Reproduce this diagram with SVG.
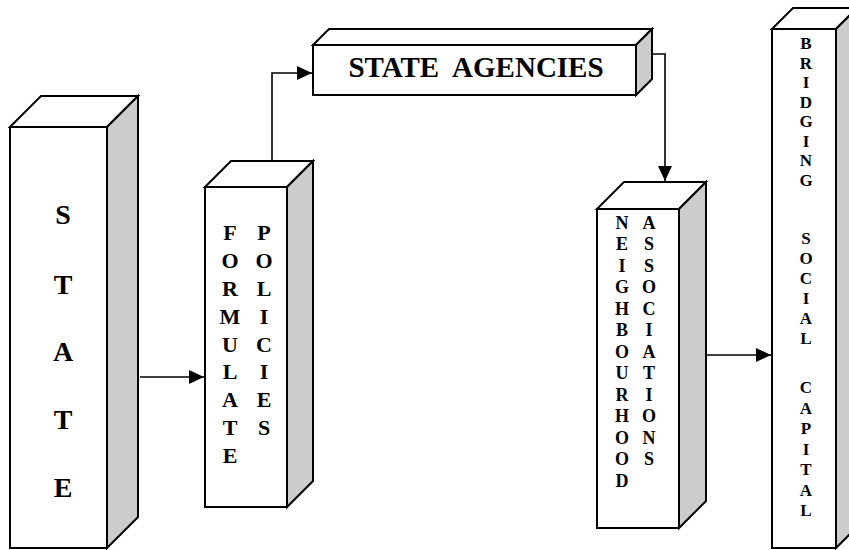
<svg xmlns="http://www.w3.org/2000/svg" width="849" height="550" viewBox="0 0 849 550">
  <style>
    .face { fill: #ffffff; stroke: #000000; stroke-width: 2; stroke-linejoin: miter; }
    .side { fill: #cccccc; stroke: #000000; stroke-width: 2; stroke-linejoin: miter; }
    .lbl { font-family: "Liberation Serif", "Times New Roman", serif; font-weight: bold; fill: #000000; text-anchor: middle; }
    .big { font-size: 28px; }
    .mid { font-size: 22px; }
    .sm { font-size: 18px; }
    .xs { font-size: 17px; }
    .conn { fill: none; stroke: #000000; stroke-width: 1.6; }
  </style>
  <defs>
    <marker id="arrow" markerUnits="userSpaceOnUse" markerWidth="16" markerHeight="14" refX="15" refY="7" orient="auto">
      <path d="M0,0 L15,7 L0,14 Z" fill="#000000"/>
    </marker>
  </defs>

  <g id="connectors">
    <path class="conn" d="M140,377 H204" marker-end="url(#arrow)"/>
    <path class="conn" d="M272,161 V73 H312" marker-end="url(#arrow)"/>
    <path class="conn" d="M652,54 H665 V181" marker-end="url(#arrow)"/>
    <path class="conn" d="M706,355 H771" marker-end="url(#arrow)"/>
  </g>

  <g id="state">
    <polygon class="face" points="10,127 41,96 138,96 107,127"/>
    <polygon class="side" points="107,127 138,96 138,517 107,548"/>
    <rect class="face" x="10" y="127" width="97" height="421"/>
    <text class="lbl big" x="63" y="224">S</text>
    <text class="lbl big" x="63" y="294">T</text>
    <text class="lbl big" x="63" y="361">A</text>
    <text class="lbl big" x="63" y="429">T</text>
    <text class="lbl big" x="63" y="497">E</text>
  </g>

  <g id="formulate-policies">
    <polygon class="face" points="205,187 231,161 313,161 287,187"/>
    <polygon class="side" points="287,187 313,161 313,481 287,507"/>
    <rect class="face" x="205" y="187" width="82" height="320"/>
    <text class="lbl mid" x="230" y="240">F</text>
    <text class="lbl mid" x="230" y="268">O</text>
    <text class="lbl mid" x="230" y="296">R</text>
    <text class="lbl mid" x="230" y="324">M</text>
    <text class="lbl mid" x="230" y="352">U</text>
    <text class="lbl mid" x="230" y="379">L</text>
    <text class="lbl mid" x="230" y="407">A</text>
    <text class="lbl mid" x="230" y="435">T</text>
    <text class="lbl mid" x="230" y="463">E</text>
    <text class="lbl mid" x="264" y="240">P</text>
    <text class="lbl mid" x="264" y="268">O</text>
    <text class="lbl mid" x="264" y="296">L</text>
    <text class="lbl mid" x="264" y="324">I</text>
    <text class="lbl mid" x="264" y="352">C</text>
    <text class="lbl mid" x="264" y="379">I</text>
    <text class="lbl mid" x="264" y="407">E</text>
    <text class="lbl mid" x="264" y="435">S</text>
  </g>

  <g id="state-agencies">
    <polygon class="face" points="313,45 329,29 652,29 636,45"/>
    <polygon class="side" points="636,45 652,29 652,79 636,95"/>
    <rect class="face" x="313" y="45" width="323" height="50"/>
    <text class="lbl" style="font-size:29px" x="476" y="77" xml:space="preserve">STATE  AGENCIES</text>
  </g>

  <g id="neighbourhood-associations">
    <polygon class="face" points="597,209 624,182 706,182 679,209"/>
    <polygon class="side" points="679,209 706,182 706,501 679,528"/>
    <rect class="face" x="597" y="209" width="82" height="319"/>
    <text class="lbl sm" x="622" y="228.5">N</text>
    <text class="lbl sm" x="622" y="250">E</text>
    <text class="lbl sm" x="622" y="271.5">I</text>
    <text class="lbl sm" x="622" y="293">G</text>
    <text class="lbl sm" x="622" y="314.5">H</text>
    <text class="lbl sm" x="622" y="336">B</text>
    <text class="lbl sm" x="622" y="357.5">O</text>
    <text class="lbl sm" x="622" y="379">U</text>
    <text class="lbl sm" x="622" y="400.5">R</text>
    <text class="lbl sm" x="622" y="422">H</text>
    <text class="lbl sm" x="622" y="443.5">O</text>
    <text class="lbl sm" x="622" y="465">O</text>
    <text class="lbl sm" x="622" y="486.5">D</text>
    <text class="lbl sm" x="649" y="228.5">A</text>
    <text class="lbl sm" x="649" y="250">S</text>
    <text class="lbl sm" x="649" y="271.5">S</text>
    <text class="lbl sm" x="649" y="293">O</text>
    <text class="lbl sm" x="649" y="314.5">C</text>
    <text class="lbl sm" x="649" y="336">I</text>
    <text class="lbl sm" x="649" y="357.5">A</text>
    <text class="lbl sm" x="649" y="379">T</text>
    <text class="lbl sm" x="649" y="400.5">I</text>
    <text class="lbl sm" x="649" y="422">O</text>
    <text class="lbl sm" x="649" y="443.5">N</text>
    <text class="lbl sm" x="649" y="465">S</text>
  </g>

  <g id="bridging-social-capital">
    <polygon class="face" points="772,29 793,8 857,8 836,29"/>
    <polygon class="side" points="836,29 857,8 857,527 836,548"/>
    <rect class="face" x="772" y="29" width="64" height="519"/>
    <text class="lbl xs" x="806" y="49">B</text>
    <text class="lbl xs" x="806" y="68.5">R</text>
    <text class="lbl xs" x="806" y="88">I</text>
    <text class="lbl xs" x="806" y="107.5">D</text>
    <text class="lbl xs" x="806" y="127">G</text>
    <text class="lbl xs" x="806" y="146.5">I</text>
    <text class="lbl xs" x="806" y="166">N</text>
    <text class="lbl xs" x="806" y="185.5">G</text>
    <text class="lbl xs" x="806" y="244">S</text>
    <text class="lbl xs" x="806" y="264">O</text>
    <text class="lbl xs" x="806" y="284">C</text>
    <text class="lbl xs" x="806" y="304">I</text>
    <text class="lbl xs" x="806" y="324">A</text>
    <text class="lbl xs" x="806" y="344">L</text>
    <text class="lbl xs" x="806" y="393">C</text>
    <text class="lbl xs" x="806" y="413.5">A</text>
    <text class="lbl xs" x="806" y="434">P</text>
    <text class="lbl xs" x="806" y="454.5">I</text>
    <text class="lbl xs" x="806" y="475">T</text>
    <text class="lbl xs" x="806" y="495.5">A</text>
    <text class="lbl xs" x="806" y="516">L</text>
  </g>
</svg>
